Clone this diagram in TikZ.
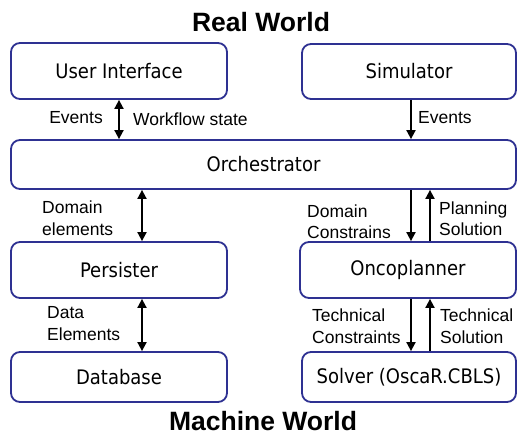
\documentclass[tikz,border=0pt]{standalone}
\usepackage{fontspec}
\setmainfont{Liberation Sans}
\newfontfamily\boxfont{DejaVu Sans Condensed}
\usetikzlibrary{arrows.meta}
\definecolor{boxblue}{RGB}{46,49,146}

\begin{document}
\begin{tikzpicture}[
	x=1pt, y=-1pt,
	block/.style={ draw=boxblue, line width=1.8pt, rounded corners=9pt, fill=white, inner sep=0pt, font=\boxfont\fontsize{20}{24}\selectfont },
	title/.style={ font=\bfseries\fontsize{26.5}{30}\selectfont, inner sep=0pt },
	lbl/.style={ font=\fontsize{17.5}{21.5}\selectfont, inner sep=0pt, align=left },
	flow/.style={ line width=1.8pt, -{Triangle[length=9pt,width=9pt]} },
	flows/.style={ line width=1.8pt, {Triangle[length=9pt,width=9pt]}-{Triangle[length=9pt,width=9pt]} }
]
\useasboundingbox (0,0) rectangle (519,434);

\node at (261,22.5) (real) [title] {Real World};
\node at (263,421) (machine) [title] {Machine World};

\node at (119,71) (ui) [block,minimum width=216pt,minimum height=56pt] {User Interface};
\node at (409,71.5) (sim) [block,minimum width=214pt,minimum height=55pt] {Simulator};
\node at (263.5,164.5) (orch) [block,minimum width=505pt,minimum height=49pt] {Orchestrator};
\node at (119,270) (pers) [block,minimum width=216pt,minimum height=56pt] {Persister};
\node at (408,270) (onco) [block,minimum width=216pt,minimum height=56pt] {Oncoplanner};
\node at (119,377) (db) [block,minimum width=216pt,minimum height=50pt] {Database};
\node at (409,377) (solver) [block,minimum width=214pt,minimum height=50pt] {Solver (OscaR.CBLS)};

\draw [flows] (ui.south) to (ui.south |- orch.north);
\draw [flow] ([xshift=2pt]sim.south) to ([xshift=2pt]sim.south |- orch.north);
\draw [flows] ([xshift=23pt]pers.north |- orch.south) to ([xshift=23pt]pers.north);
\draw [flows] ([xshift=23pt]pers.south) to ([xshift=23pt]pers.south |- db.north);
\draw [flow] ([xshift=3pt]onco.north |- orch.south) to ([xshift=3pt]onco.north);
\draw [flow] ([xshift=22pt]onco.north) to ([xshift=22pt]onco.north |- orch.south);
\draw [flow] ([xshift=3pt]onco.south) to ([xshift=3pt]onco.south |- solver.north);
\draw [flow] ([xshift=22pt]onco.south |- solver.north) to ([xshift=22pt]onco.south);

\node at (103,118) (evui) [lbl,anchor=east] {Events};
\node at (133,119) (wfs) [lbl,anchor=west] {Workflow state};
\node at (418,118) (evsim) [lbl,anchor=west] {Events};
\node at (42,218) (domel) [lbl,anchor=west] {Domain\\elements};
\node at (47,323.5) (datael) [lbl,anchor=west] {Data\\Elements};
\node at (307,221.5) (domcon) [lbl,anchor=west] {Domain\\Constrains};
\node at (439,218.5) (plansol) [lbl,anchor=west] {Planning\\Solution};
\node at (312,326) (techcon) [lbl,anchor=west] {Technical\\Constraints};
\node at (440,326) (techsol) [lbl,anchor=west] {Technical\\Solution};

\end{tikzpicture}
\end{document}
